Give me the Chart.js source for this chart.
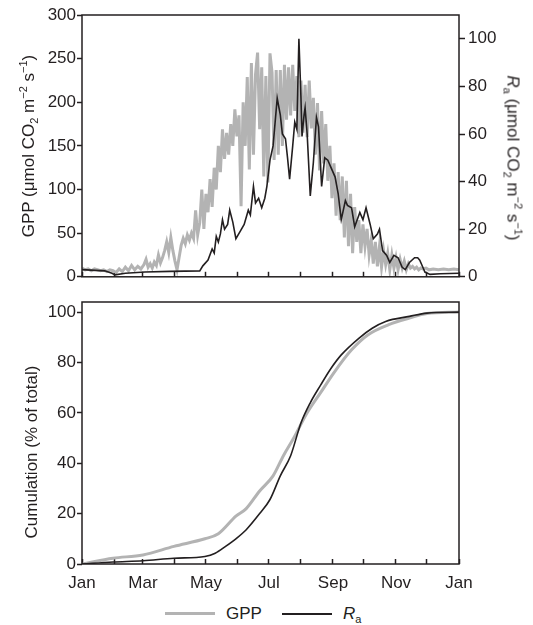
<!DOCTYPE html>
<html>
<head>
<meta charset="utf-8">
<script src="https://cdn.jsdelivr.net/npm/chart.js@4/dist/chart.umd.min.js"></script>
<style>
body { margin: 0; background: #fff; }
#wrap { position: relative; width: 533px; height: 625px; font-family: 'Liberation Sans', Arial, sans-serif; color: #231f20; }
#wrap canvas { position: absolute; left: 0; }
.ttl { position: absolute; white-space: nowrap; font-size: 17px; line-height: 17px; }
.ttl sub, .ttl sup, .leg sub { font-size: 11px; line-height: 0; }
.leg { position: absolute; font-size: 17px; line-height: 17px; white-space: nowrap; }
.legline { position: absolute; }
</style>
</head>
<body>
<div id="wrap">
  <canvas id="top" width="533" height="290" style="top:0px"></canvas>
  <canvas id="bottom" width="533" height="305" style="top:290px"></canvas>

  <div class="ttl" style="left:28px; top:146px; transform:translate(-50%,-50%) rotate(-90deg)">GPP (μmol CO<sub>2</sub> m<sup>−2</sup> s<sup>−1</sup>)</div>
  <div class="ttl" style="left:513px; top:158px; transform:translate(-50%,-50%) rotate(90deg)"><i>R</i><sub>a</sub> (μmol CO<sub>2</sub> m<sup>−2</sup> s<sup>−1</sup>)</div>
  <div class="ttl" style="left:31px; top:452px; transform:translate(-50%,-50%) rotate(-90deg)">Cumulation (% of total)</div>

  <div class="legline" style="left:165px; top:612px; width:50px; height:3px; background:#b3b3b3"></div>
  <div class="leg" style="left:226px; top:605px">GPP</div>
  <div class="legline" style="left:282px; top:613px; width:50px; height:2px; background:#231f20"></div>
  <div class="leg" style="left:343px; top:605px"><i>R</i><sub>a</sub></div>
</div>
<script>
// day of year for each month start, and the labels
var monthDays = [0, 31, 59, 90, 120, 151, 181, 212, 243, 273, 304, 334, 365]
var monthNames = ["Jan", "Feb", "Mar", "Apr", "May", "Jun", "Jul", "Aug", "Sep", "Oct", "Nov", "Dec", "Jan"]

// y tick values
var gppTicks = [0, 50, 100, 150, 200, 250, 300]
var raTicks = [0, 20, 40, 60, 80, 100]
var cumTicks = [0, 20, 40, 60, 80, 100]

// daily GPP (left axis)
var gppDays = [0, 3, 6, 9, 12, 15, 18, 21, 24, 27, 30, 33, 36, 39, 42, 45, 48, 51, 54, 57,
    60, 62, 64, 66, 68, 70, 72, 74, 76, 78, 80, 82, 84, 86, 88, 90, 92, 94, 96, 98,
    100, 102, 104, 106, 108, 110, 112, 114, 116, 118, 120, 122, 124, 126, 128, 130, 132, 134, 136, 138,
    140, 142, 144, 146, 148, 150, 152, 154, 156, 158, 160, 162, 164, 166, 168, 170, 172, 174, 176, 178,
    180, 182, 184, 186, 188, 190, 192, 194, 196, 198, 200, 202, 204, 206, 208, 210, 212, 214, 216, 218,
    220, 222, 224, 226, 228, 230, 232, 234, 236, 238, 240, 242, 244, 246, 248, 250, 252, 254, 256, 258,
    260, 262, 264, 266, 268, 270, 272, 274, 276, 278, 280, 282, 284, 286, 288, 290, 292, 294, 296, 298,
    300, 302, 304, 306, 308, 310, 312, 314, 316, 318, 320, 322, 324, 326, 328, 330,
    333, 336, 340, 345, 350, 355, 360, 365]
var gppValues = [10, 8, 9, 7, 9, 8, 7, 8, 6, 8, 7, 5, 9, 6, 11, 7, 13, 8, 12, 9,
    14, 20, 11, 15, 10, 17, 13, 25, 16, 22, 30, 40, 28, 45, 30, 18, 8, 22, 36, 44,
    38, 48, 42, 50, 44, 76, 48, 62, 100, 55, 95, 74, 112, 80, 125, 100, 150, 120, 169, 135,
    165, 140, 175, 150, 192, 161, 185, 81, 200, 150, 229, 123, 245, 140, 232, 257, 169, 240, 115, 230,
    108, 256, 234, 134, 237, 140, 237, 150, 243, 180, 240, 185, 243, 190, 230, 160, 225, 165, 220, 160,
    225, 170, 205, 140, 199, 122, 190, 130, 175, 110, 150, 90, 130, 70, 120, 65, 115, 45, 110, 35,
    95, 27, 80, 40, 65, 27, 60, 35, 55, 25, 42, 15, 40, 12, 35, 11, 30, 14, 27, 8,
    25, 10, 22, 8, 20, 10, 18, 8, 15, 10, 12, 9, 11, 8, 10, 9,
    10, 8, 9, 8, 9, 8, 9, 8]

// daily Ra (right axis)
var raDays = [0, 13, 22, 29, 32, 42, 61, 85, 114, 117, 122, 126, 128, 130, 132, 134, 136, 138, 141, 143,
    146, 149, 153, 157, 161, 163, 166, 168, 171, 174, 177, 179, 182, 185, 189, 192, 194, 197, 199, 201,
    204, 206, 208, 210, 212, 213, 215, 216, 218, 221, 224, 227, 229, 232, 235, 238, 241, 245, 248, 251,
    255, 257, 261, 264, 269, 272, 275, 279, 282, 286, 288, 291, 295, 298, 302, 306, 310, 313, 317, 322,
    325, 327, 330, 332, 337, 347, 365]
var raValues = [3, 2.7, 2.5, 1.5, 0.8, 1.5, 2, 2.3, 2.5, 4.6, 7, 11.7, 10, 17, 14.6, 18, 24, 20, 22, 28,
    23, 16, 19, 22, 28, 26, 38, 31, 33, 29, 33, 38, 49, 55, 75, 68, 60, 58, 50, 41,
    55, 65, 62, 100, 75, 59, 68, 71, 60, 34, 48, 67, 63, 38, 50, 49, 46, 42, 35, 24,
    32, 30, 29, 21, 27, 24, 29, 22, 16, 18, 20, 11, 9, 6, 9, 8, 4, 3, 6, 8,
    8, 7, 4, 2, 1, 1.3, 1.5]

// cumulative % of annual total
var cumGppDays = [0, 30, 59, 89, 119, 132, 149, 159, 172, 185, 195, 205, 218, 231, 244, 261, 277, 297, 317, 334, 365]
var cumGppValues = [0, 2.3, 3.6, 7, 10, 12, 19, 22, 29, 35, 43, 50, 60, 68, 76, 85, 91, 95, 97.6, 99.4, 100]
var cumRaDays = [0, 30, 59, 89, 119, 129, 139, 149, 159, 172, 182, 192, 202, 212, 221, 231, 241, 251, 268, 281, 294, 317, 334, 365]
var cumRaValues = [0, 0.8, 1.3, 2.3, 3, 4.3, 7, 10, 13.6, 20, 25.6, 35, 43, 56, 64, 71, 77.6, 83, 89.6, 93.6, 96.3, 98.3, 99.6, 100]

var ink = "#231f20"
var grey = "#b3b3b3"
var tickFont = { family: "'Liberation Sans', Arial, sans-serif", size: 17 }

function pairs(xs, ys) {
    var out = []
    for (var i = 0; i < xs.length; i++) {
        out.push({ x: xs[i], y: ys[i] })
    }
    return out
}

function fixedTicks(list) {
    return function (scale) {
        scale.ticks = list.map(function (v) { return { value: v } })
    }
}

// box round the plot area
var frame = {
    id: "frame",
    afterDraw: function (chart) {
        var a = chart.chartArea
        var ctx = chart.ctx
        ctx.save()
        ctx.strokeStyle = ink
        ctx.lineWidth = 1.5
        ctx.strokeRect(a.left, a.top, a.right - a.left, a.bottom - a.top)
        ctx.restore()
    }
}

function xAxis(height, showLabels) {
    return {
        type: "linear", position: "bottom", min: 0, max: 365,
        afterBuildTicks: fixedTicks(monthDays),
        afterFit: function (s) { s.height = height },
        border: { display: false },
        grid: { drawOnChartArea: false, tickLength: -5, tickWidth: 1.5, tickColor: ink },
        ticks: {
            display: showLabels, autoSkip: false, maxRotation: 0, padding: 14,
            font: tickFont, color: ink,
            callback: function (v, i) { return i % 2 == 0 ? monthNames[i] : "" }
        }
    }
}

function yAxis(pos, max, ticks, width, tickLen, pad) {
    return {
        position: pos, min: 0, max: max,
        afterBuildTicks: fixedTicks(ticks),
        afterFit: function (s) { s.width = width },
        border: { display: false },
        grid: { drawOnChartArea: false, tickLength: tickLen, tickWidth: 1.5, tickColor: ink },
        ticks: { padding: pad, font: tickFont, color: ink }
    }
}

new Chart(document.getElementById("top").getContext("2d"), {
    type: "line",
    data: {
        datasets: [{
            label: "GPP", data: pairs(gppDays, gppValues), yAxisID: "y", order: 2,
            borderColor: grey, borderWidth: 3, pointRadius: 0, tension: 0
        }, {
            label: "Ra", data: pairs(raDays, raValues), yAxisID: "y2", order: 1,
            borderColor: ink, borderWidth: 1.6, pointRadius: 0, tension: 0
        }]
    },
    options: {
        responsive: false, animation: false,
        layout: { padding: { top: 15, left: 0, right: 0, bottom: 0 } },
        plugins: { legend: { display: false }, tooltip: { enabled: false } },
        scales: {
            x: xAxis(12, false),
            y: yAxis("left", 300, gppTicks, 82, 5, 1),
            y2: yAxis("right", 110, raTicks, 74, 6, 3)
        }
    },
    plugins: [frame]
})

new Chart(document.getElementById("bottom").getContext("2d"), {
    type: "line",
    data: {
        datasets: [{
            label: "GPP", data: pairs(cumGppDays, cumGppValues), order: 2,
            borderColor: grey, borderWidth: 3, pointRadius: 0, cubicInterpolationMode: "monotone"
        }, {
            label: "Ra", data: pairs(cumRaDays, cumRaValues), order: 1,
            borderColor: ink, borderWidth: 1.6, pointRadius: 0, cubicInterpolationMode: "monotone"
        }]
    },
    options: {
        responsive: false, animation: false,
        layout: { padding: { top: 12, left: 0, right: 74, bottom: 0 } },
        plugins: { legend: { display: false }, tooltip: { enabled: false } },
        scales: {
            x: xAxis(31, true),
            y: yAxis("left", 104, cumTicks, 82, 5, 1)
        }
    },
    plugins: [frame]
})
</script>
</body>
</html>
